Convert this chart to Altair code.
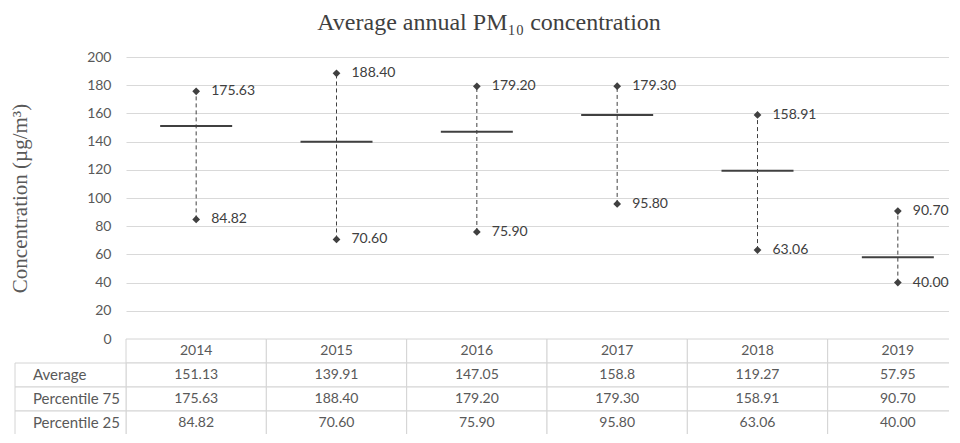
import altair as alt
import pandas as pd

years = ["2014", "2015", "2016", "2017", "2018", "2019"]
average = [151.13, 139.91, 147.05, 158.8, 119.27, 57.95]
p75 = [175.63, 188.40, 179.20, 179.30, 158.91, 90.70]
p25 = [84.82, 70.60, 75.90, 95.80, 63.06, 40.00]
row_labels = ["Average", "Percentile 75", "Percentile 25"]
y_ticks = list(range(0, 201, 20))

GRID = "#d9d9d9"
BORDER = "#d4d4d4"
DARK = "#404040"
TXT = "#595959"
FONT = "Lato"
SERIF = "Liberation Serif"

summary = pd.DataFrame({"year": years, "average": average, "p75": p75, "p25": p25})
points = pd.DataFrame({"year": years * 2, "value": p75 + p25})
points["label"] = points["value"].map(lambda v: f"{v:.2f}")

xscale = alt.Scale(type="band", domain=years, paddingInner=0, paddingOuter=0)
x = alt.X("year:N", scale=xscale, axis=None)
yscale = alt.Scale(domain=[0, 200], nice=False, zero=True)

y_axis = alt.Axis(values=y_ticks, tickCount=11, grid=True, gridColor=GRID, domain=False, ticks=False,
                  labelPadding=15, labelFont=FONT, labelFontSize=14, labelColor=TXT,
                  title="Concentration  (µg/m³)", titleFont=SERIF, titleFontSize=21,
                  titleFontWeight="normal", titleColor=TXT, titlePadding=56)

rule = alt.Chart(summary).mark_rule(color=DARK, strokeDash=[4, 3], strokeWidth=1).encode(
    x=x, y=alt.Y("p25:Q", scale=yscale, axis=y_axis), y2="p75:Q")
tick = alt.Chart(summary).mark_tick(color=DARK, thickness=2, size=72, opacity=1).encode(
    x=x, y=alt.Y("average:Q"))
pts = alt.Chart(points).mark_point(shape="diamond", filled=True, size=60, color=DARK, opacity=1).encode(
    x=x, y="value:Q")
lbl = alt.Chart(points).mark_text(align="left", baseline="middle", dx=15, font=FONT,
                                  fontSize=14, color=DARK).encode(x=x, y="value:Q", text="label:N")
top = alt.layer(rule, tick, pts, lbl).properties(width=842, height=282)

row_order = ["Year"] + row_labels
cells = []
for i, yv in enumerate(years):
    cells.append({"year": yv, "row": "Year", "text": yv})
    cells.append({"year": yv, "row": "Average", "text": str(average[i])})
    cells.append({"year": yv, "row": "Percentile 75", "text": f"{p75[i]:.2f}"})
    cells.append({"year": yv, "row": "Percentile 25", "text": f"{p25[i]:.2f}"})
cells = pd.DataFrame(cells)
labels_df = pd.DataFrame({"row": row_labels})

ty = alt.Y("row:N", scale=alt.Scale(domain=row_order, paddingInner=0, paddingOuter=0), axis=None)
cell_rect = alt.Chart(cells).mark_rect(fill="white", stroke=BORDER, strokeWidth=1).encode(x=x, y=ty)
cell_text = alt.Chart(cells).mark_text(font=FONT, fontSize=14, color=TXT).encode(x=x, y=ty, text="text:N")
lab_rect = alt.Chart(labels_df).mark_rect(fill="white", stroke=BORDER, strokeWidth=1).encode(
    x=alt.value(-111), x2=alt.value(0), y=ty)
lab_text = alt.Chart(labels_df).mark_text(align="left", font=FONT, fontSize=15, color=TXT).encode(
    x=alt.value(-93), y=ty, text="row:N")
table = alt.layer(cell_rect, cell_text, lab_rect, lab_text).properties(width=842, height=96)

chart = alt.vconcat(
    top, table, spacing=0, bounds="flush",
    title=alt.TitleParams("Average annual PM₁₀ concentration", font=SERIF, fontSize=24,
                          fontWeight="normal", color=DARK, anchor="middle", offset=15),
    padding={"left": 1, "top": 3, "right": -20, "bottom": -2},
).configure_view(stroke=None)

chart.save("out.html", embed_options={"renderer": "svg", "actions": False})
